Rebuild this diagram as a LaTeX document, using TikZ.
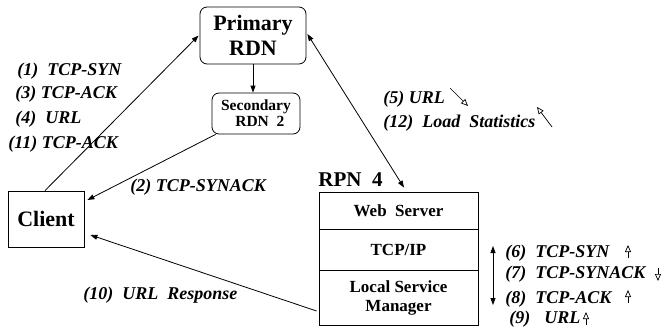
\documentclass[tikz,border=0pt]{standalone}
\usepackage{fontspec}
\setmainfont{Liberation Serif}
\usetikzlibrary{arrows.meta}

\begin{document}
\begin{tikzpicture}[x=1pt,y=-1pt, line width=0.8pt,
  rbox/.style={draw, rounded corners=7pt, align=center, inner sep=0pt},
  sbox/.style={draw, align=center, inner sep=0pt, minimum width=159pt,
               font=\fontsize{17}{19}\selectfont\bfseries},
  lbl/.style={anchor=base west, inner sep=0pt,
              font=\fontsize{18}{20}\selectfont\bfseries\itshape},
  flow/.style={-{Triangle[length=7pt,width=5pt]}},
  hint/.style={-{Triangle[open,length=7pt,width=6pt]}, line width=0.7pt}]
\useasboundingbox (0,0) rectangle (661,332);

% boxes
\node[rbox, minimum width=106pt, minimum height=57pt,
      font=\fontsize{22}{25}\selectfont\bfseries] (prim) at (253,35.5) {Primary\\RDN};
\node[rbox, minimum width=88pt, minimum height=41pt,
      font=\fontsize{15.5}{16}\selectfont\bfseries] (sec) at (256,113.5) {Secondary\\\ \ RDN\ \ 2};
\node[draw, minimum width=76pt, minimum height=56pt, inner sep=0pt,
      font=\fontsize{22}{25}\selectfont\bfseries] (client) at (46,219) {Client};

\node[sbox, minimum height=37pt] (web) at (398.5,210.5) {Web\ \ Server};
\node[sbox, minimum height=41pt] (tcp) at (398.5,249.5) {TCP/IP};
\node[sbox, minimum height=55pt] (lsm) at (398.5,297.5) {Local Service\\Manager};
\node[anchor=base west, inner sep=0pt, font=\fontsize{21}{23}\selectfont\bfseries]
      (rpn) at (318,186) {RPN\ \ 4};

% connectors
\draw[flow] ([xshift=-1pt]client.north) -- ([xshift=-1pt]prim.west);
\draw[flow] ([xshift=4pt]sec.south west) -- ([xshift=3pt,yshift=19pt]client.east);
\draw[flow] (prim.south) -- (prim.south |- sec.north);
\draw[{Triangle[length=7pt,width=5pt]}-{Triangle[length=7pt,width=5pt]}]
      ([xshift=1pt,yshift=1.5pt]prim.east) -- ([xshift=5.5pt,yshift=4pt]web.north);
\draw[flow] ([xshift=-2pt,yshift=-13.5pt]lsm.west) -- ([xshift=6pt,yshift=-16pt]client.east);

\coordinate (va) at (493,246);
\coordinate (vb) at (493,305);
\draw[{Triangle[length=7pt,width=5pt]}-{Triangle[length=7pt,width=5pt]}] (va) -- (vb);

% message labels
\node[lbl] (m1)  at (17,75)   {(1)\hspace{9pt}TCP-SYN};
\node[lbl] (m3)  at (15,98)   {(3) TCP-ACK};
\node[lbl] (m4)  at (15,123)  {(4)\hspace{9pt}URL};
\node[lbl] (m11) at (8,148)   {(11) TCP-ACK};
\node[lbl] (m2)  at (130,191) {(2) TCP-SYNACK};
\node[lbl] (m10) at (83,299)  {(10)\hspace{9pt}URL\hspace{9pt}Response};
\node[lbl] (m5)  at (383,103) {(5) URL};
\node[lbl] (m12) at (383,127) {(12)\hspace{9pt}Load\hspace{9pt}Statistics};
\node[lbl] (m6)  at (505,257) {(6)\hspace{9pt}TCP-SYN};
\node[lbl] (m7)  at (505,278) {(7)\hspace{9pt}TCP-SYNACK};
\node[lbl] (m8)  at (505,303) {(8)\hspace{9pt}TCP-ACK};
\node[lbl] (m9)  at (509,323) {(9)\hspace{14pt}URL};

% small direction marks
\coordinate (d5a)  at (450,88);  \coordinate (d5b)  at (468,106);
\coordinate (d12a) at (552,127); \coordinate (d12b) at (537,107);
\coordinate (d6a)  at (628,258); \coordinate (d6b)  at (628,245);
\coordinate (d7a)  at (658,268); \coordinate (d7b)  at (658,281);
\coordinate (d8a)  at (628,303); \coordinate (d8b)  at (628,290);
\coordinate (d9a)  at (586,325); \coordinate (d9b)  at (586,312);
\draw[hint] (d5a) -- (d5b);
\draw[hint] (d12a) -- (d12b);
\draw[hint] (d6a) -- (d6b);
\draw[hint] (d7a) -- (d7b);
\draw[hint] (d8a) -- (d8b);
\draw[hint] (d9a) -- (d9b);
\end{tikzpicture}
\end{document}
